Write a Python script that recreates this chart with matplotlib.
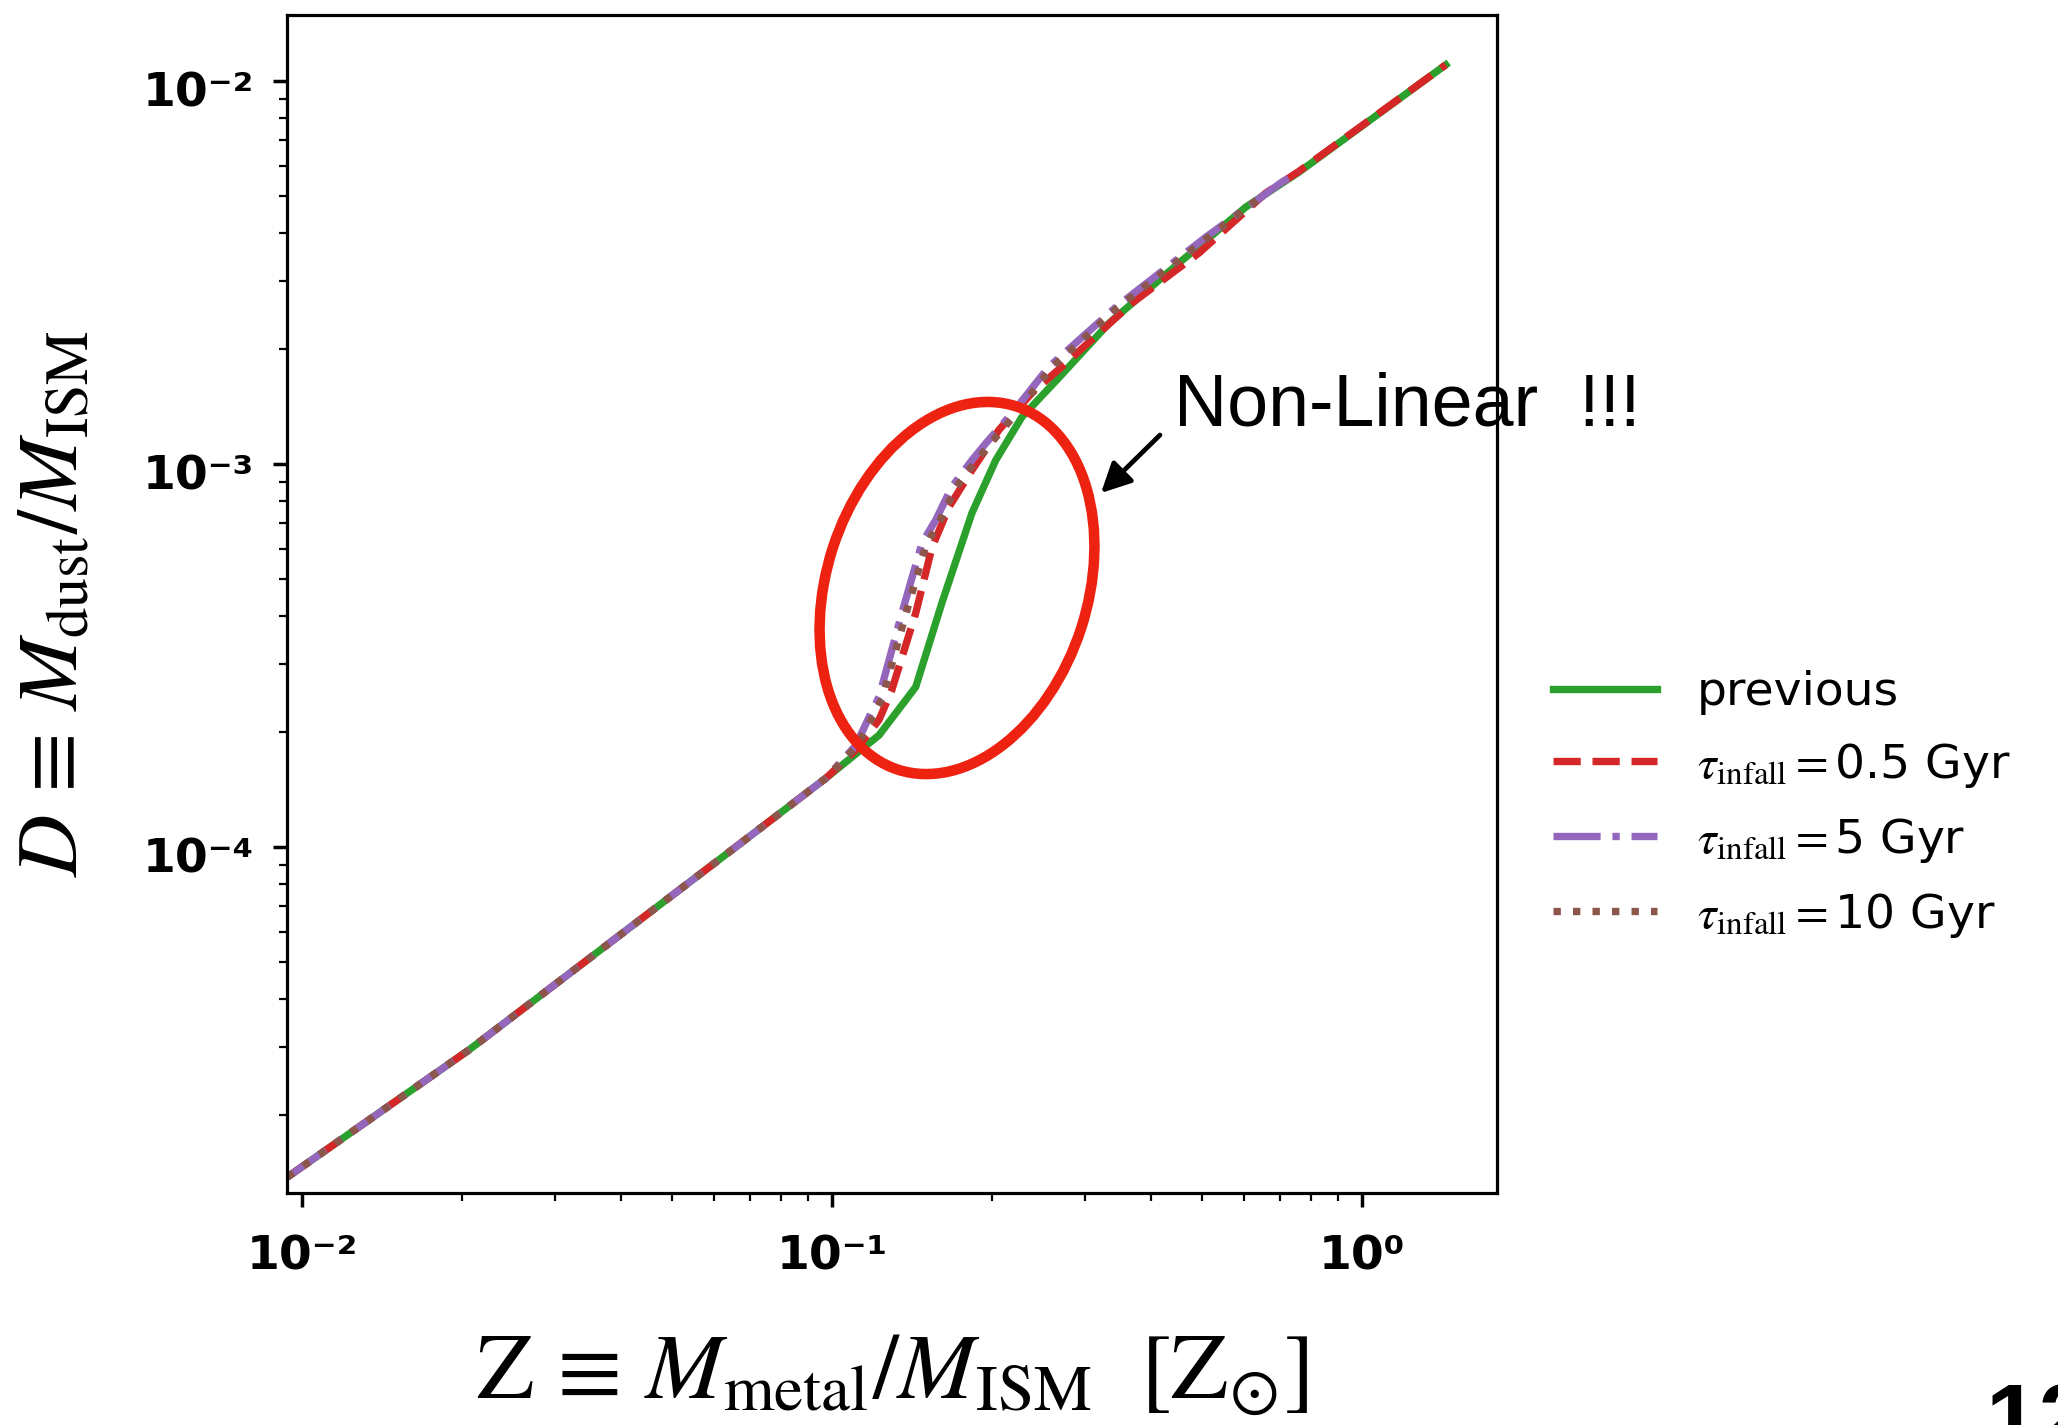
import numpy as np
import matplotlib
matplotlib.use("Agg")
import matplotlib.pyplot as plt
from matplotlib.patches import Ellipse
from matplotlib.ticker import LogLocator, FuncFormatter, NullFormatter
from matplotlib import font_manager
from matplotlib.transforms import ScaledTranslation

# ---------------- data ----------------
z_prev = [0.00938, 0.02065, 0.0647, 0.0975, 0.1227, 0.1439, 0.1612, 0.1837,
          0.2037, 0.2283, 0.2679, 0.3334, 0.4519, 0.6039, 0.7603, 1.439]
d_prev = [1.374e-5, 2.951e-5, 9.82e-5, 1.514e-4, 1.959e-4, 2.618e-4, 4.335e-4,
          7.447e-4, 1.023e-3, 1.327e-3, 1.679e-3, 2.333e-3, 3.350e-3, 4.688e-3,
          5.781e-3, 1.102e-2]

z_05 = [0.00938, 0.02065, 0.0647, 0.0975, 0.1109, 0.1227, 0.1297, 0.1439, 0.1545,
        0.1663, 0.1837, 0.2065, 0.2382, 0.2767, 0.3681, 0.4926, 0.6592, 0.7603, 1.439]
d_05 = [1.374e-5, 2.951e-5, 9.82e-5, 1.514e-4, 1.791e-4, 2.148e-4, 2.570e-4, 4.083e-4,
        6.067e-4, 7.727e-4, 9.638e-4, 1.227e-3, 1.531e-3, 1.837e-3, 2.630e-3,
        3.556e-3, 5.105e-3, 5.808e-3, 1.102e-2]

z_5 = [0.00938, 0.02065, 0.0647, 0.0975, 0.1109, 0.1175, 0.1227, 0.1355, 0.1479,
       0.1570, 0.1683, 0.1837, 0.1954, 0.2188, 0.2564, 0.3436, 0.5082, 0.7063, 0.7603]
d_5 = [1.374e-5, 2.951e-5, 9.82e-5, 1.514e-4, 1.841e-4, 2.183e-4, 2.466e-4, 4.083e-4,
       6.223e-4, 7.145e-4, 8.710e-4, 1.023e-3, 1.135e-3, 1.358e-3, 1.791e-3,
       2.570e-3, 3.917e-3, 5.445e-3, 5.781e-3]

z_10 = [0.00938, 0.02065, 0.0647, 0.0975, 0.1109, 0.1190, 0.1245, 0.1380, 0.1505,
        0.1598, 0.1710, 0.1862, 0.1985, 0.2220, 0.2590, 0.3460, 0.5100, 0.6340]
d_10 = [1.374e-5, 2.951e-5, 9.82e-5, 1.514e-4, 1.820e-4, 2.170e-4, 2.450e-4, 4.083e-4,
        6.150e-4, 7.100e-4, 8.650e-4, 1.010e-3, 1.125e-3, 1.350e-3, 1.780e-3,
        2.560e-3, 3.880e-3, 4.890e-3]

series_labels = ["previous",
                 r"$\tau_{\rm infall}=$0.5 Gyr",
                 r"$\tau_{\rm infall}=$5 Gyr",
                 r"$\tau_{\rm infall}=$10 Gyr"]
x_major = [1e-2, 1e-1, 1e0]
y_major = [1e-4, 1e-3, 1e-2]
annot_text = "Non-Linear  !!!"
page_number = "12"

# ---------------- style ----------------
plt.rcParams["mathtext.fontset"] = "stix"
plt.rcParams["font.family"] = ["DejaVu Sans"]

names = {f.name for f in font_manager.fontManager.ttflist}
if "Liberation Sans Narrow" in names:
    tick_family = ["Liberation Sans Narrow", "DejaVu Sans"]
    tick_size = 38
else:
    tick_family = ["DejaVu Sans"]
    tick_size = 34

W, H = 2058, 1425
fig = plt.figure(figsize=(W / 100, H / 100), dpi=100)
fig.patch.set_facecolor("white")

L, R, T, B = 287, 1497, 15, 1193
ax = fig.add_axes([L / W, 1 - B / H, (R - L) / W, (B - T) / H])
ax.set_xscale("log")
ax.set_yscale("log")

lw = 5.3
ax.plot(z_prev, d_prev, color="#2ca02c", lw=lw, ls="-", label=series_labels[0])
ax.plot(z_05, d_05, color="#d62728", lw=lw, ls="--", label=series_labels[1])
ax.plot(z_5, d_5, color="#9467bd", lw=lw, ls="-.", label=series_labels[2])
ax.plot(z_10, d_10, color="#8c564b", lw=lw, ls=":", label=series_labels[3])

ax.set_xlim(0.00937, 1.798)
ax.set_ylim(1.249e-5, 0.01487)

sup = str.maketrans("-0123456789", "\u207b\u2070\u00b9\u00b2\u00b3\u2074\u2075\u2076\u2077\u2078\u2079")


def fmt(v, pos):
    e = int(round(np.log10(v)))
    return "10" + str(e).translate(sup)


ax.xaxis.set_major_locator(plt.FixedLocator(x_major))
ax.yaxis.set_major_locator(plt.FixedLocator(y_major))
ax.xaxis.set_major_formatter(FuncFormatter(fmt))
ax.yaxis.set_major_formatter(FuncFormatter(fmt))
ax.xaxis.set_minor_locator(LogLocator(base=10, subs=np.arange(2, 10), numticks=20))
ax.yaxis.set_minor_locator(LogLocator(base=10, subs=np.arange(2, 10), numticks=20))
ax.xaxis.set_minor_formatter(NullFormatter())
ax.yaxis.set_minor_formatter(NullFormatter())

for s in ax.spines.values():
    s.set_linewidth(2.3)
ax.tick_params(which="major", length=10, width=2.5, direction="out")
ax.tick_params(which="minor", length=5.5, width=1.6, direction="out")
ax.tick_params(axis="x", which="major", pad=20)
ax.tick_params(axis="y", which="major", pad=14)
for t in ax.get_xticklabels() + ax.get_yticklabels():
    t.set_fontfamily(tick_family)
    t.set_fontsize(tick_size)
    t.set_fontweight("bold")
# pasted-in y tick labels sit slightly below their ticks in the reference
for t in ax.get_yticklabels():
    t.set_transform(t.get_transform() + ScaledTranslation(0, -6 / 72, fig.dpi_scale_trans))

ax.set_xlabel(r"$\mathrm{Z}\,\equiv\,M_{\rm metal}/M_{\rm ISM}\ \ [\mathrm{Z}_{\odot}]$",
              fontsize=67, labelpad=34)
ax.set_ylabel(r"$D\,\equiv\,M_{\rm dust}/M_{\rm ISM}$", fontsize=62, labelpad=34)

leg = ax.legend(loc="center left", bbox_to_anchor=(1553 / W, 1 - 805 / H),
                bbox_transform=fig.transFigure, frameon=False, fontsize=34,
                borderpad=0, borderaxespad=0, handlelength=2.2,
                handletextpad=0.85, labelspacing=0.55)

# ---------------- annotation overlay (pixel coordinates) ----------------
ov = fig.add_axes([0, 0, 1, 1], facecolor="none")
ov.set_xlim(0, W)
ov.set_ylim(H, 0)
ov.axis("off")
ov.add_patch(Ellipse((957, 588), 261, 382, angle=18, fill=False,
                     ec="#EE2211", lw=7.6))
ov.annotate("", xy=(1101, 493), xytext=(1160, 435),
            arrowprops=dict(arrowstyle="-|>", color="k", lw=3.4,
                            mutation_scale=45, shrinkA=0, shrinkB=0))
ov.text(1174, 425, annot_text, fontsize=53, family=["Liberation Sans", "DejaVu Sans"],
        va="baseline", ha="left", color="black")
ov.text(1986, 1450, page_number, fontsize=68, family=["Liberation Sans", "DejaVu Sans"],
        weight="bold", va="baseline", ha="left", color="black")

fig.savefig("out.png", dpi=100, facecolor="white")
